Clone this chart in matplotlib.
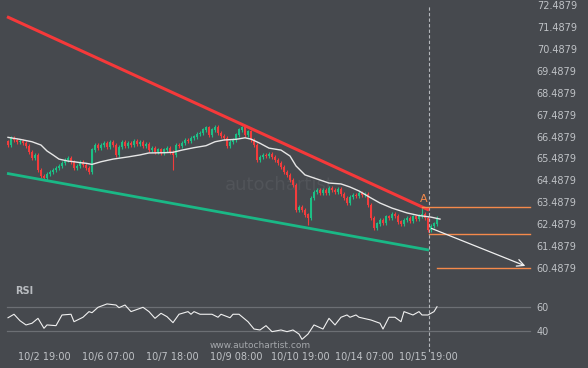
import matplotlib
matplotlib.use("Agg")
import matplotlib.pyplot as plt
import numpy as np

BG = "#46494e"
TXT = "#bfc2c6"
UP = "#1dbf85"
DOWN = "#f23c3c"
ORANGE = "#f58a4b"

# hourly closes, one per bar (bar 140 = 10/15 19:00)
closes = [
    66.10, 66.42, 66.33, 66.24, 66.28, 66.19, 66.05, 65.78, 65.51, 65.64,
    64.96, 64.69, 64.60, 64.78, 64.87, 64.96, 65.05, 65.14, 65.28, 65.42,
    65.51, 65.33, 65.05, 65.14, 65.33, 65.19, 65.05, 64.87, 65.88, 66.10,
    65.96, 66.10, 66.19, 66.01, 66.24, 66.10, 65.64, 66.01, 66.24, 66.05,
    66.19, 66.10, 66.28, 66.15, 66.24, 66.05, 66.15, 65.88, 65.96, 65.78,
    65.88, 65.74, 65.88, 65.96, 65.78, 65.64, 66.10, 66.05, 66.19, 66.33,
    66.28, 66.42, 66.47, 66.60, 66.65, 66.79, 66.88, 66.56, 66.79, 66.92,
    66.65, 66.51, 66.42, 66.05, 66.24, 66.33, 66.56, 66.79, 66.88, 66.56,
    66.70, 66.33, 66.10, 65.42, 65.55, 65.64, 65.60, 65.69, 65.55, 65.42,
    65.28, 65.10, 64.87, 64.73, 64.50, 64.27, 63.14, 63.28, 63.14, 62.92,
    62.78, 63.69, 63.96, 64.05, 63.91, 64.05, 63.91, 64.14, 64.05, 63.96,
    64.10, 63.87, 63.69, 63.46, 63.73, 63.82, 63.78, 63.91, 63.82, 63.87,
    63.37, 62.78, 62.32, 62.51, 62.69, 62.55, 62.83, 62.78, 62.96, 62.87,
    62.60, 62.51, 62.69, 62.78, 62.64, 62.83, 62.74, 62.87, 62.96, 62.78,
    62.23, 62.41, 62.51, 62.78,
]
first_open = 66.25
wick = 0.08
spike_highs = {138: 63.28, 20: 65.60}
spike_lows = {12: 64.50, 55: 64.97, 100: 62.46, 96: 63.05}

# moving average read at sample bars
ma_bars = [0, 4, 8, 11, 13, 15, 17, 20, 22, 24, 26, 28, 31, 35, 40, 44, 47, 52,
           55, 58, 62, 66, 69, 72, 76, 79, 81, 84, 87, 91, 94, 96, 99, 102, 107,
           111, 114, 117, 121, 124, 128, 133, 137, 141, 144]
ma_vals = [66.45, 66.36, 66.25, 66.10, 65.83, 65.65, 65.46, 65.37, 65.34, 65.30,
           65.27, 65.22, 65.34, 65.46, 65.56, 65.65, 65.74, 65.75, 65.77, 65.87,
           65.98, 66.07, 66.25, 66.33, 66.36, 66.43, 66.37, 66.18, 65.96, 65.87,
           65.60, 65.15, 64.74, 64.60, 64.37, 64.33, 64.19, 64.01, 63.69, 63.46,
           63.23, 63.01, 62.89, 62.82, 62.73]

# RSI read at sample bars
rsi_bars = [0, 2, 4, 6, 8, 10, 12, 13, 16, 18, 21, 22, 25, 27, 28, 30, 33, 36,
            37, 39, 41, 45, 47, 49, 51, 53, 55, 57, 60, 61, 62, 64, 68, 70, 71,
            74, 75, 77, 80, 82, 84, 86, 88, 91, 93, 95, 97, 98, 100, 102, 105,
            107, 109, 111, 113, 114, 116, 117, 121, 124, 125, 127, 129, 131,
            132, 135, 137, 138, 140, 142, 143]
rsi_vals = [50.8, 53.7, 48.3, 44.8, 46.2, 50.3, 42.0, 44.8, 44.2, 53.1, 53.7,
            47.5, 51.2, 55.9, 55.0, 59.5, 62.3, 61.4, 59.2, 61.4, 55.9, 59.5,
            55.9, 50.3, 54.5, 51.7, 46.7, 53.7, 55.9, 53.7, 55.9, 53.7, 53.7,
            51.2, 53.7, 50.8, 53.7, 53.7, 47.5, 41.4, 40.6, 44.2, 39.2, 40.6,
            39.2, 40.6, 37.2, 32.8, 37.2, 44.8, 41.4, 50.3, 44.8, 51.2, 53.1,
            51.2, 53.1, 51.2, 48.9, 46.2, 41.4, 51.2, 51.2, 47.5, 55.9, 53.1,
            55.9, 53.1, 53.1, 55.9, 60.0]

# pattern lines (bar, price)
resist = ([-0.33, 140.33], [71.94, 63.14])
support = ([-0.33, 140.33], [64.81, 61.32])
now_bar = 140.33
forecast = ([140.33, 173.3], [62.35, 60.55])
levels = [63.28, 62.05, 60.52]
level_start = [138.0, 140.33, 143.0]
level_end = 174.0

price_ticks = [60.4879 + k for k in range(13)]
time_ticks = [12, 33.3, 54.7, 76, 97.3, 118.7, 140]
time_labels = ["10/2 19:00", "10/6 07:00", "10/7 18:00", "10/9 08:00",
               "10/10 19:00", "10/14 07:00", "10/15 19:00"]

W, H = 588, 368
fig = plt.figure(figsize=(W / 100, H / 100), dpi=100, facecolor=BG)
ax = fig.add_axes([0, 1 - 288 / H, 532 / W, 288 / H], facecolor=BG)
ax_rsi = fig.add_axes([0, 1 - 352 / H, 532 / W, 64 / H], facecolor=BG)

xlim = (-8 / 3, (532 - 8) / 3)
for a in (ax, ax_rsi):
    a.set_xlim(*xlim)
    for s in a.spines.values():
        s.set_visible(False)
    a.tick_params(axis="y", left=False, labelleft=False, right=True,
                  labelright=True, length=0, pad=3.5, labelsize=7, labelcolor=TXT)
    a.tick_params(axis="x", length=0)

ax.set_ylim(59.593, 72.702)
ax_rsi.set_ylim(22.25, 75.58)

# candles
closes_a = np.array(closes)
opens = np.concatenate([[first_open], closes_a[:-1]])
idx = np.arange(len(closes_a))
highs = np.maximum(opens, closes_a) + wick
lows = np.minimum(opens, closes_a) - wick
for i, v in spike_highs.items():
    highs[i] = v
for i, v in spike_lows.items():
    lows[i] = v
colors = [UP if c >= o else DOWN for o, c in zip(opens, closes_a)]
ax.vlines(idx, lows, highs, colors=colors, lw=0.8, zorder=3)
ax.bar(idx, np.abs(closes_a - opens) + 0.02, bottom=np.minimum(opens, closes_a),
       width=0.7, color=colors, lw=0, zorder=4)

ax.plot(ma_bars, ma_vals, color="#e6e6e6", lw=1.0, zorder=5)

ax.plot(*resist, color="#f5393a", lw=2.2, solid_capstyle="butt", zorder=6)
ax.plot(*support, color="#1ab886", lw=2.0, solid_capstyle="butt", zorder=6)

for lv, x0 in zip(levels, level_start):
    ax.plot([x0, level_end], [lv, lv], color=ORANGE, lw=1.0, zorder=6)
ax.text(level_start[0] + 0.7, levels[0] + 0.12, "A", color=ORANGE, fontsize=8,
        ha="center", va="bottom", zorder=7)

ax.annotate("", xy=(forecast[0][1], forecast[1][1]),
            xytext=(forecast[0][0], forecast[1][0]),
            arrowprops=dict(arrowstyle="->,head_length=0.5,head_width=0.25",
                            color="#f0f0f0", lw=0.9), zorder=7)

ax.axvline(now_bar, ymin=0, ymax=(288 - 5) / 288, color="#b5b8bc", lw=0.8,
           ls=(0, (3, 2)), zorder=2)
ax_rsi.axvline(now_bar, ymin=0, ymax=1, color="#b5b8bc", lw=0.8,
               ls=(0, (3, 2)), zorder=2)

ax.set_yticks(price_ticks)
ax.set_yticklabels([f"{p:.4f}" for p in price_ticks])
ax.set_xticks([])

ax.text(225 / 532, (288 - 185) / 288, "autochartist", transform=ax.transAxes,
        color="#515459", fontsize=13, ha="left", va="center", zorder=1)

# RSI panel
for lv in (40, 60):
    ax_rsi.plot([-0.33, level_end], [lv, lv], color="#6c6f74", lw=0.9, zorder=1)
ax_rsi.plot(rsi_bars, rsi_vals, color="#f0f0f0", lw=0.8, zorder=3)
ax_rsi.set_yticks([40, 60])
ax_rsi.set_xticks(time_ticks)
ax_rsi.set_xticklabels(time_labels)
ax_rsi.tick_params(axis="x", labelsize=7, labelcolor=TXT, pad=0)
ax_rsi.text(15 / 532, (352 - 291) / 64, "RSI", transform=ax_rsi.transAxes,
            color="#b9bcc0", fontsize=7, fontweight="bold", va="center")
ax_rsi.text(260 / 532, (352 - 345) / 64, "www.autochartist.com",
            transform=ax_rsi.transAxes, color="#a5a8ac", fontsize=6.5,
            ha="center", va="center")

fig.savefig("out.png", dpi=100, facecolor=BG)
